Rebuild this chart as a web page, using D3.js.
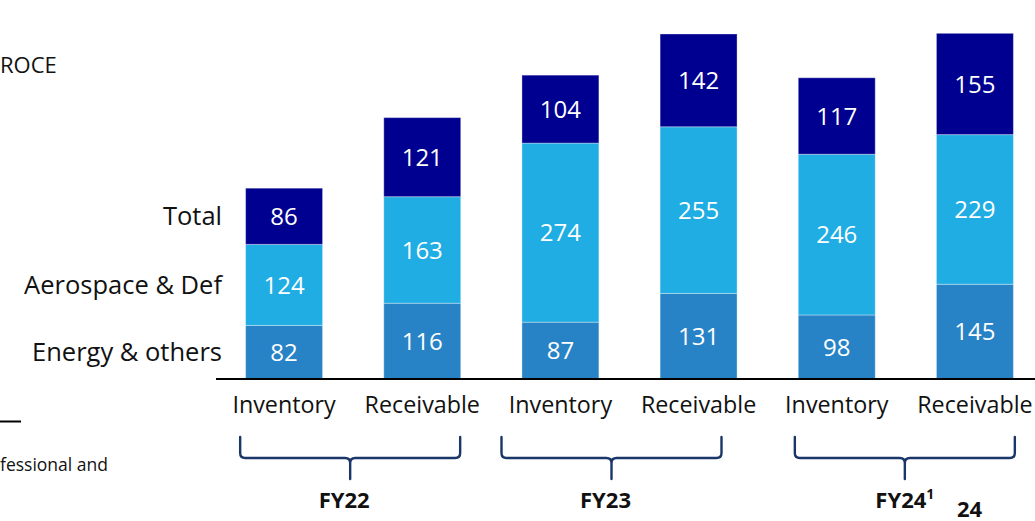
<!DOCTYPE html>
<html>
<head>
<meta charset="utf-8">
<script src="https://cdn.jsdelivr.net/npm/d3@7"></script>
<style>
  html, body { margin: 0; padding: 0; background: #fff; }
  svg { display: block; font-family: "Open Sans", sans-serif; }
</style>
</head>
<body>
<svg id="chart" width="1035" height="521"></svg>
<script>
// ---- data ----
const bars = ["Inventory", "Receivable", "Inventory", "Receivable", "Inventory", "Receivable"];
const years = ["FY22", "FY23", "FY24"];
const seriesNames = ["Energy & others", "Aerospace & Def", "Total"];
const energy = [82, 116, 87, 131, 98, 145];
const aero = [124, 163, 274, 255, 246, 229];
const total = [86, 121, 104, 142, 117, 155];

// ---- layout ----
const colors = ["#2883C6", "#1FADE3", "#000090"];
const svg = d3.select("#chart");
const baseY = 379;

const ids = bars.map((b, i) => i);
const x = d3.scaleBand().domain(ids).range([215, 1044]).paddingInner(0.443).paddingOuter(0.2215);
const y = d3.scaleLinear().domain([0, 580]).range([baseY, 0]);

const table = ids.map(i => ({ i, e: energy[i], a: aero[i], t: total[i] }));
const stack = d3.stack().keys(["e", "a", "t"])(table);

const layers = svg.append("g").selectAll("g").data(stack).join("g")
  .attr("fill", (d, k) => colors[k]);

layers.selectAll("rect").data(d => d).join("rect")
  .attr("x", d => x(d.data.i))
  .attr("y", d => y(d[1]))
  .attr("width", x.bandwidth())
  .attr("height", d => y(d[0]) - y(d[1]))
  .attr("stroke", "rgba(255,255,255,0.35)")
  .attr("stroke-width", 1);

layers.selectAll("text").data(d => d).join("text")
  .attr("x", d => x(d.data.i) + x.bandwidth() / 2)
  .attr("y", d => (y(d[0]) + y(d[1])) / 2)
  .attr("dy", "0.36em")
  .attr("text-anchor", "middle")
  .attr("fill", "#fff")
  .attr("font-size", 24)
  .text(d => d[1] - d[0]);

// baseline axis
svg.append("line").attr("x1", 216).attr("x2", 1035)
  .attr("y1", baseY).attr("y2", baseY)
  .attr("stroke", "#000").attr("stroke-width", 2.2);

// category labels
svg.append("g").selectAll("text").data(ids).join("text")
  .attr("x", i => x(i) + x.bandwidth() / 2)
  .attr("y", 413)
  .attr("text-anchor", "middle")
  .attr("font-size", 23.3)
  .attr("fill", "#111")
  .text(i => bars[i]);

// series labels next to the first bar
const first = stack.map(s => s[0]);
svg.append("g").selectAll("text").data(first).join("text")
  .attr("x", 222)
  .attr("y", d => (y(d[0]) + y(d[1])) / 2)
  .attr("dy", "0.36em")
  .attr("text-anchor", "end")
  .attr("font-size", 25.5)
  .attr("fill", "#111")
  .text((d, k) => seriesNames[k]);

// year brackets
const nudge = [-3, -18, -1];
const halfW = 110;
const bTop = 437, bMid = 458, bTip = 479, r = 5;
years.forEach((yr, g) => {
  const a = 2 * g, b = 2 * g + 1;
  const c = (x(a) + x(b) + x.bandwidth()) / 2 + nudge[g];
  const L = c - halfW, R = c + halfW;
  const p = `M${L},${bTop} V${bMid - r} Q${L},${bMid} ${L + r},${bMid} H${c - r} Q${c},${bMid} ${c},${bMid + r} V${bTip}` +
            ` M${c},${bMid + r} Q${c},${bMid} ${c + r},${bMid} H${R - r} Q${R},${bMid} ${R},${bMid - r} V${bTop}`;
  svg.append("path").attr("d", p).attr("fill", "none")
    .attr("stroke", "#1B3668").attr("stroke-width", 2.4).attr("stroke-linecap", "round");
  const t = svg.append("text").attr("x", c - 6 + (g === 2 ? 6 : 0)).attr("y", 508)
    .attr("text-anchor", "middle").attr("font-size", 22).attr("font-weight", "bold")
    .attr("fill", "#111").text(yr);
  if (g === 2) {
    t.append("tspan").attr("font-size", 14).attr("dy", -9).text("1");
  }
});

// surrounding page text
svg.append("text").attr("x", 0).attr("y", 73).attr("font-size", 22).attr("fill", "#111").text("ROCE");
svg.append("line").attr("x1", 0).attr("x2", 21).attr("y1", 421.5).attr("y2", 421.5)
  .attr("stroke", "#000").attr("stroke-width", 2);
svg.append("text").attr("x", 0).attr("y", 471).attr("font-size", 17.5).attr("fill", "#111").text("fessional and");
svg.append("text").attr("x", 957).attr("y", 517).attr("font-size", 22).attr("font-weight", "bold")
  .attr("fill", "#111").text("24");
</script>
</body>
</html>
